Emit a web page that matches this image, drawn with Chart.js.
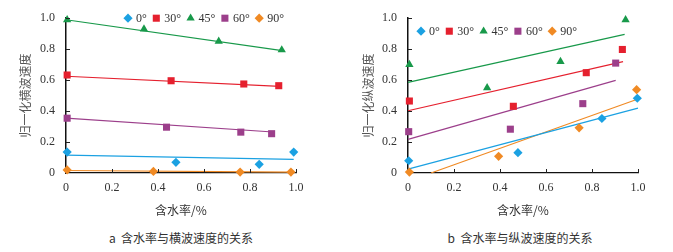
<!DOCTYPE html>
<html>
  <head>
    <meta charset="utf-8">
    <title>含水率与波速的关系</title>
    <script src="https://cdn.jsdelivr.net/npm/chart.js@4/dist/chart.umd.min.js"></script>
    <style>
      body { margin: 0; background: #fff; width: 673px; height: 252px; position: relative; overflow: hidden; }
      .panel { position: absolute; top: 0; }
      .caption {
        position: absolute; top: 229px; width: 300px; text-align: center;
        font: 12px "Noto Sans CJK SC", sans-serif; color: #333;
      }
    </style>
  </head>

  <body>
    <div class="panel" style="left:0"><canvas id="shear" width="336" height="218"></canvas></div>
    <div class="panel" style="left:336px"><canvas id="press" width="337" height="218"></canvas></div>
    <div class="caption" style="left:31px">a&nbsp; 含水率与横波速度的关系</div>
    <div class="caption" style="left:370px">b&nbsp; 含水率与纵波速度的关系</div>
    <script>
      // angle series, shared by both panels
      const angles = ['0°', '30°', '45°', '60°', '90°'];
      const colors = ['#1ba1e2', '#e5202e', '#18994a', '#9c3f8b', '#f08a24'];
      const markers = ['rectRot', 'rect', 'triangle', 'rect', 'rectRot'];
      const yTickLabels = ['0', '0.2', '0.4', '0.6', '0.8', '1.0'];
      const xTickLabels = ['0', '0.2', '0.4', '0.6', '0.8', '1.0'];

      // a: water content vs normalised shear wave velocity
      const shearWater = [
        [0.005, 0.478, 0.84, 0.99],
        [0.005, 0.457, 0.773, 0.925],
        [0.005, 0.339, 0.664, 0.938],
        [0.005, 0.437, 0.76, 0.894],
        [0.005, 0.38, 0.757, 0.978],
      ];
      const shearVel = [
        [0.135, 0.069, 0.056, 0.135],
        [0.633, 0.596, 0.575, 0.564],
        [0.99, 0.93, 0.85, 0.795],
        [0.354, 0.296, 0.264, 0.254],
        [0.02, 0.01, 0.006, 0.006],
      ];
      // fitted lines: [x0, y0, x1, y1]
      const shearFit = [
        [0, 0.115, 0.99, 0.088],
        [0, 0.625, 0.93, 0.56],
        [0, 0.99, 0.94, 0.79],
        [0, 0.355, 0.9, 0.265],
        [0, 0.016, 0.98, 0.006],
      ];

      // b: water content vs normalised P wave velocity
      const pressWater = [
        [0.003, 0.478, 0.843, 0.997],
        [0.006, 0.458, 0.775, 0.932],
        [0.006, 0.344, 0.663, 0.946],
        [0.003, 0.445, 0.76, 0.903],
        [0.006, 0.394, 0.744, 0.994],
      ];
      const pressVel = [
        [0.079, 0.131, 0.352, 0.483],
        [0.465, 0.431, 0.648, 0.798],
        [0.70, 0.55, 0.72, 0.99],
        [0.267, 0.283, 0.448, 0.71],
        [0.006, 0.108, 0.292, 0.538],
      ];
      const pressFit = [
        [0, 0.025, 1.0, 0.419],
        [0, 0.402, 0.935, 0.719],
        [0, 0.585, 0.942, 0.896],
        [0, 0.217, 0.903, 0.598],
        [0.1, 0, 0.994, 0.475],
      ];

      const serif = "'Liberation Serif', 'DejaVu Serif', serif";
      const cjk = "'Noto Sans CJK SC', sans-serif";
      const radii = { rectRot: 4.6, rect: 5, triangle: 4.8 };

      function shape(ctx, style, x, y, r) {
        ctx.beginPath();
        if (style === 'rectRot') {
          ctx.moveTo(x - r, y); ctx.lineTo(x, y - r); ctx.lineTo(x + r, y); ctx.lineTo(x, y + r);
        } else if (style === 'rect') {
          const s = r * Math.SQRT1_2;
          ctx.rect(x - s, y - s, 2 * s, 2 * s);
        } else {
          ctx.moveTo(x, y - r);
          ctx.lineTo(x + r * 0.866, y + r / 2);
          ctx.lineTo(x - r * 0.866, y + r / 2);
        }
        ctx.closePath();
        ctx.fill();
      }

      // legend drawn inside the plot, one row
      const markerLegend = {
        id: 'markerLegend',
        afterDraw(chart, args, opts) {
          const ctx = chart.ctx;
          let x = chart.chartArea.left + opts.x;
          const y = chart.chartArea.top + opts.y;
          ctx.save();
          ctx.font = '12px ' + serif;
          ctx.textBaseline = 'middle';
          angles.forEach((a, i) => {
            ctx.fillStyle = colors[i];
            shape(ctx, markers[i], x, y, radii[markers[i]]);
            ctx.fillStyle = '#333';
            ctx.fillText(a, x + 8, y + 1);
            x += 8 + ctx.measureText(a).width + 9.5;
          });
          ctx.restore();
        },
      };

      // small tick marks pointing into the plot
      const innerTicks = {
        id: 'innerTicks',
        afterDatasetsDraw(chart) {
          const ctx = chart.ctx;
          const { x, y } = chart.scales;
          const area = chart.chartArea;
          ctx.save();
          ctx.strokeStyle = '#222';
          ctx.lineWidth = 1;
          ctx.beginPath();
          y.ticks.forEach((t, i) => {
            if (i === 0) return;
            const py = Math.round(y.getPixelForValue(t.value)) + 0.5;
            ctx.moveTo(area.left, py); ctx.lineTo(area.left + 4, py);
          });
          x.ticks.forEach((t, i) => {
            if (i === 0) return;
            const px = Math.round(x.getPixelForValue(t.value)) + 0.5;
            ctx.moveTo(px, area.bottom); ctx.lineTo(px, area.bottom - 4);
          });
          ctx.stroke();
          ctx.restore();
        },
      };

      function buildDatasets(water, vel, fit) {
        const pts = angles.map((a, i) => ({
          label: a,
          data: water[i].map((w, j) => ({ x: w, y: vel[i][j] })),
          pointStyle: markers[i],
          pointRadius: radii[markers[i]],
          backgroundColor: colors[i],
          borderWidth: 0,
          showLine: false,
          clip: false,
        }));
        const lines = fit.map((f, i) => ({
          label: angles[i] + ' fit',
          data: [{ x: f[0], y: f[1] }, { x: f[2], y: f[3] }],
          showLine: true,
          borderColor: colors[i],
          borderWidth: 1.2,
          pointRadius: 0,
          clip: false,
        }));
        return pts.concat(lines);
      }

      function makeChart(id, datasets, yTitle, pad, yWidth, legendPos) {
        return new Chart(document.getElementById(id), {
          type: 'scatter',
          data: { datasets },
          plugins: [markerLegend, innerTicks],
          options: {
            responsive: false,
            animation: false,
            events: [],
            layout: { padding: pad },
            plugins: {
              legend: { display: false },
              tooltip: { enabled: false },
              markerLegend: legendPos,
            },
            scales: {
              x: {
                type: 'linear',
                min: 0,
                max: 1,
                afterFit: (s) => { s.height = 45; },
                grid: { display: false, drawTicks: false },
                border: { display: true, color: '#111', width: 1.3 },
                ticks: {
                  stepSize: 0.2,
                  padding: 8,
                  color: '#333',
                  font: { family: serif, size: 12 },
                  callback: (v, i) => xTickLabels[i],
                },
                title: {
                  display: true,
                  text: '含水率/%',
                  color: '#333',
                  padding: 0,
                  font: { family: cjk, size: 12 },
                },
              },
              y: {
                min: 0,
                max: 1,
                afterFit: (s) => { s.width = yWidth; },
                grid: { display: false, drawTicks: false },
                border: { display: true, color: '#111', width: 1.5 },
                ticks: {
                  stepSize: 0.2,
                  padding: 11,
                  color: '#333',
                  font: { family: serif, size: 12 },
                  callback: (v, i) => yTickLabels[i],
                },
                title: {
                  display: true,
                  text: yTitle,
                  color: '#555',
                  padding: 0,
                  font: { family: cjk, size: 12 },
                },
              },
            },
          },
        });
      }

      window.onload = () => {
        makeChart('shear', buildDatasets(shearWater, shearVel, shearFit), '归一化横波速度',
          { left: 18, right: 40, top: 13, bottom: 0 }, 48, { x: 62, y: 0 });
        makeChart('press', buildDatasets(pressWater, pressVel, pressFit), '归一化纵波速度',
          { left: 25, right: 35, top: 13, bottom: 0 }, 47, { x: 13, y: 13 });
      };
    </script>
  </body>
</html>
